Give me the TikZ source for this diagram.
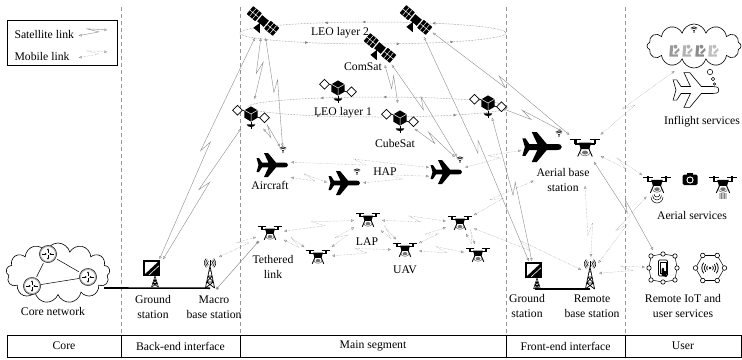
\documentclass[tikz,border=0pt]{standalone}
\usepackage{fontspec}
\setmainfont{Liberation Serif}
\usetikzlibrary{arrows.meta,calc,shapes.symbols,decorations.markings}
\definecolor{lk}{RGB}{140,140,140}
\definecolor{dv}{RGB}{150,150,150}
\tikzset{ico/.style 2 args={inner sep=0pt,minimum width=#1,minimum height=#2},
 lbl/.style={align=center,inner sep=1pt},
 lnk/.style={draw=lk,line width=.4pt,{Latex[open,length=3.2pt,width=2.8pt]}-{Latex[open,length=3.2pt,width=2.8pt]},shorten <=1.5pt,shorten >=1.5pt,
  to path={-- ($(\tikztostart)!.5!(\tikztotarget)!6pt!(\tikztotarget)$) -- ($(\tikztostart)!.5!(\tikztotarget)!-6pt!(\tikztotarget)!5.5pt!90:(\tikztotarget)$) -- (\tikztotarget)}},
 sl/.style={lnk},ml/.style={lnk,densely dotted},
 orbit/.style={draw=black!55,densely dotted,line width=.5pt},
 sepline/.style={dv,dash pattern=on 4pt off 3pt,line width=.6pt},
 every node/.style={font=\fontsize{11.7}{14.5}\selectfont},
 pics/comsat/.style={code={\begin{scope}[yscale=-1,rotate=40]
  \fill (-3.6,-3.3) rectangle (3.6,3.3);
  \foreach \s in {-1,1}{\fill[rounded corners=.5pt] (\s*4.8,-4.3) rectangle (\s*14.2,4.3);
   \draw[white,line width=.45pt] (\s*4.8,0) -- (\s*14.2,0) (\s*7.9,-4.3) -- (\s*7.9,4.3) (\s*11.1,-4.3) -- (\s*11.1,4.3);}
  \fill (-1,-3) -- (4.5,-9.5) -- (-2.5,-9.5) -- cycle;
  \end{scope}}},
 pics/cubesat/.style={code={\begin{scope}[yscale=-1]
  \draw[line width=.7pt] (-5,2.5) -- (-8,3.5) (5,-2.5) -- (8,-3.5);
  \draw[line width=.7pt,fill=white] (-12.5,8) -- (-8,3.5) -- (-12.5,-1) -- (-17,3.5) -- cycle (12.5,1) -- (17,-3.5) -- (12.5,-8) -- (8,-3.5) -- cycle;
  \fill (90:7) -- (150:7) -- (210:7) -- (270:7) -- (330:7) -- (30:7) -- cycle;
  \draw[white,line width=.5pt] (0,0) -- (30:7) (0,0) -- (150:7) (0,0) -- (270:7);
  \draw[line width=1pt] (0,-7) -- (0,-14);
  \fill (-4,-9.5) arc[start angle=180,end angle=360,x radius=4,y radius=2.6] -- cycle;
  \end{scope}}},
 pics/plane/.style={code={\begin{scope}[yscale=-1]
  \path[pic actions] (15,0) .. controls (15,2.2) and (13,2.4) .. (11,2.4) -- (3,2.4) -- (-5,12) -- (-9,12) -- (-4.5,2.4) -- (-11,2.4) -- (-14,7) -- (-16.5,7) -- (-14.5,0) -- (-16.5,-7) -- (-14,-7) -- (-11,-2.4) -- (-4.5,-2.4) -- (-9,-12) -- (-5,-12) -- (3,-2.4) -- (11,-2.4) .. controls (13,-2.4) and (15,-2.2) .. (15,0) -- cycle;
  \end{scope}}},
 pics/wifi/.style={code={\begin{scope}[yscale=-1,black!80]
  \fill (0,0) circle (.9);
  \foreach \r in {2.3,3.7,5.1}{\draw[line width=.85pt] (50:\r) arc[start angle=50,end angle=130,radius=\r];}
  \end{scope}}},
 pics/drone/.style={code={\begin{scope}[yscale=-1]
  \foreach \s in {-1,1}{\draw[line width=1.1pt] (\s*3.6,6.6) -- (\s*11.8,6.6); \fill (\s*6.8,7.4) rectangle (\s*8.6,3);}
  \draw[line width=1.3pt] (-8,3.2) -- (8,3.2);
  \fill (-5,4.4) -- (5,4.4) -- (3.5,-.8) -- (-3.5,-.8) -- cycle;
  \draw[line width=.9pt] (-2.8,0) -- (-5.8,-6.8) (2.8,0) -- (5.8,-6.8);
  \fill[black!55] (0,-3.6) ellipse[x radius=2.4,y radius=1.6];
  \draw[black!55,line width=.6pt] (-4,-3.6) arc[start angle=180,end angle=360,x radius=4,y radius=2.7];
  \end{scope}}},
 pics/dish/.style={code={\begin{scope}[yscale=-1]
  \draw[line width=.55pt] (-1.5,-13) -- (2,-2) -- (5.5,-13) (-.4,-9.5) -- (4.4,-9.5) (.6,-6) -- (3.4,-6) (-.4,-9.5) -- (3.4,-6) (4.4,-9.5) -- (.6,-6) (-1.5,-13) -- (4.4,-9.5) (5.5,-13) -- (-.4,-9.5);
  \draw[line width=1.1pt,fill=white] (-9,-1) rectangle (6,13);
  \fill (-9,-1) -- (6,-1) -- (6,13) -- cycle;
  \draw[white,line width=.6pt] (-4,-1) -- (6,8.3);
  \end{scope}}},
 pics/tower/.style={code={\begin{scope}[yscale=-1]
  \draw[line width=.7pt] (-4.6,-15) -- (0,7) -- (4.6,-15) (-3.4,-9) -- (3.4,-9) (-2.2,-3) -- (2.2,-3) (-4.6,-15) -- (3.4,-9) (4.6,-15) -- (-3.4,-9) (-3.4,-9) -- (2.2,-3) (3.4,-9) -- (-2.2,-3) (-1.1,2) -- (1.1,2);
  \draw[line width=.9pt] (0,7) -- (0,13);
  \foreach \r in {2.6,4.2,5.8}{\draw[line width=.55pt] (0,10) ++(130:\r) arc[start angle=130,end angle=230,radius=\r] (0,10) ++(-50:\r) arc[start angle=-50,end angle=50,radius=\r];}
  \end{scope}}},
 pics/router/.style={code={
  \draw[line width=1.4pt,draw=black!30,fill=white] (0,0) circle (7.8);
  \draw[line width=.4pt] (0,0) circle (8.6);
  \foreach \a in {90,270}{\draw[-{Stealth[length=2pt,width=2.2pt]},line width=.5pt] (\a:1.3) -- (\a:5.6);}
  \foreach \a in {0,180}{\draw[-{Stealth[length=2pt,width=2.2pt]},line width=.5pt] (\a:5.8) -- (\a:1.3);}
  }},
 pics/camera/.style={code={
  \fill[rounded corners=1.5pt] (-7.5,-5.5) rectangle (7.5,5);
  \fill (-3,-7.5) rectangle (3,-5);
  \fill[white] (0,0) circle (3.6); \fill (0,0) circle (2.4);
  }},
 pics/seat/.style={code={\begin{scope}[yscale=-1]
  \fill (-5,-6) -- (4,-6) -- (4,-3.5) -- (-1.5,-3.5) -- (-1,6) -- (-4,6) -- cycle;
  \fill (1.5,4.5) circle (2.1);
  \fill (0,-2) -- (5,3) -- (6,1) -- (2,-3) -- cycle;
  \end{scope}}},
 pics/iotphone/.style={code={
  \draw[line width=.5pt] (-12,-12) -- (0,-14) -- (12,-12) -- (14,0) -- (12,12) -- (0,14) -- (-12,12) -- (-14,0) -- cycle;
  \foreach \p in {(-12,-12),(0,-14),(12,-12),(14,0),(12,12),(0,14),(-12,12),(-14,0)}{\draw[line width=.6pt,fill=white] \p circle (2.2);}
  \draw[line width=.7pt,rounded corners=1.2pt,fill=white] (-4.5,-8) rectangle (4.5,8);
  \draw[line width=.4pt] (-3,-5.8) rectangle (3,5);
  \fill (-1.5,7.5) -- (-1.5,1) -- (0,-.5) -- (1.2,1) -- (1.2,3) -- (3.5,3) -- (3.5,9) -- cycle;
  }},
 pics/iotwave/.style={code={
  \foreach \a in {0,60,...,300}{\draw[line width=.5pt] (\a:14.5) -- (\a+60:14.5);}
  \foreach \a in {0,60,...,300}{\draw[line width=.6pt,fill=white] (\a:14.5) circle (2.3);}
  \fill (0,0) circle (1.4);
  \foreach \r in {3.4,5.8,8.2}{\draw[line width=.8pt] (-40:\r) arc[start angle=-40,end angle=40,radius=\r] (140:\r) arc[start angle=140,end angle=220,radius=\r];}
  }}}
\begin{document}
\begin{tikzpicture}[x=1pt,y=-1pt]
\useasboundingbox (0,0) rectangle (742,359);
\foreach \x in {121,240,506,625}{\draw[sepline] (\x,7) -- (\x,335);}
\draw[line width=.6pt] (7,335) rectangle (741,357);
\foreach \x in {121,240,506,625}{\draw[line width=.6pt] (\x,335) -- (\x,357);}
\node (tcore) at (64,346) {Core};\node (tback) at (180.5,346) {Back-end interface};\node (tmain) at (373,346) {Main segment};
\node (tfront) at (565.5,346) {Front-end interface};\node (tuser) at (683,346) {User};
\node[draw,line width=.6pt,ico={110}{45}] (leg) at (62,42.5) {};
\node[anchor=west] (lgs) at (11,34) {Satellite link};\node[anchor=west] (lgm) at (11,56) {Mobile link};
\coordinate (lsa) at (77,36);\coordinate (lsb) at (109,30);\coordinate (lma) at (77,58);\coordinate (lmb) at (109,52);
\draw[sl] (lsa) to (lsb);\draw[ml] (lma) to (lmb);
\draw[orbit,decoration={markings,mark=at position .1 with {\arrowreversed{Latex[open,length=3.2pt,width=2.8pt]}},
 mark=at position .2 with {\arrowreversed{Latex[open,length=3.2pt,width=2.8pt]}},mark=at position .37 with {\arrowreversed{Latex[open,length=3.2pt,width=2.8pt]}},
 mark=at position .66 with {\arrowreversed{Latex[open,length=3.2pt,width=2.8pt]}},mark=at position .73 with {\arrowreversed{Latex[open,length=3.2pt,width=2.8pt]}},
 mark=at position .86 with {\arrowreversed{Latex[open,length=3.2pt,width=2.8pt]}}},postaction=decorate] (373,33) ellipse[x radius=133,y radius=11];
\draw[orbit,decoration={markings,mark=at position .1 with {\arrowreversed{Latex[open,length=3.2pt,width=2.8pt]}},
 mark=at position .36 with {\arrowreversed{Latex[open,length=3.2pt,width=2.8pt]}},mark=at position .64 with {\arrowreversed{Latex[open,length=3.2pt,width=2.8pt]}},
 mark=at position .76 with {\arrowreversed{Latex[open,length=3.2pt,width=2.8pt]}}},postaction=decorate] (378,107) ellipse[x radius=130,y radius=10];
\node[ico={30}{30}] (s1) at (263,21) {};\node[ico={30}{30}] (s2) at (416,20) {};\node[ico={30}{30}] (s3) at (380,48) {};
\node[ico={26}{26}] (c1) at (251,114) {};\node[ico={26}{26}] (c2) at (338,88) {};\node[ico={26}{26}] (c3) at (400,118) {};\node[ico={26}{26}] (c4) at (488,103) {};
\node[ico={32}{24}] (a1) at (273,165) {};\node[ico={32}{24}] (a2) at (345,183) {};\node[ico={32}{24}] (a3) at (447,172) {};
\node[ico={10}{7}] (w1) at (283,152) {};\node[ico={10}{7}] (w2) at (357,174) {};\node[ico={10}{7}] (w3) at (460,162) {};
\node[ico={40}{30}] (abp) at (543,147) {};\node[ico={10}{7}] (abw) at (559,136) {};\node[ico={28}{24}] (abd) at (585,148) {};
\node[ico={24}{18}] (d1) at (270,233) {};\node[ico={24}{18}] (d2) at (318,257) {};\node[ico={24}{18}] (d3) at (368,220) {};
\node[ico={24}{18}] (d4) at (405,250) {};\node[ico={24}{18}] (d5) at (460,223) {};\node[ico={24}{18}] (d6) at (478,255) {};
\node[ico={18}{26}] (g1) at (153,274) {};\node[ico={14}{30}] (m1) at (210,273) {};
\node[ico={18}{26}] (g2) at (535,276) {};\node[ico={14}{30}] (rb) at (590,274) {};
\node[ico={32}{32}] (i1) at (663,268) {};\node[ico={32}{32}] (i2) at (710,268) {};
\node[ico={26}{20}] (as1) at (657,185) {};\node[ico={16}{14}] (as2) at (690,180) {};\node[ico={26}{20}] (as3) at (723,185) {};
\node[ico={48}{36}] (ip) at (697,90) {};
\node[cloud,draw,cloud puffs=13,aspect=1.75,ico={104}{60},line width=.6pt] (core) at (58,273) {};
\node[cloud,draw,cloud puffs=12,aspect=2.1,ico={94}{44},line width=.6pt] (ifc) at (694,46) {};
\node[ico={18}{18}] (r1) at (48,254) {};\node[ico={18}{18}] (r2) at (32,286) {};\node[ico={18}{18}] (r3) at (88,277) {};
\coordinate (cj) at (104,288);\coordinate (abs) at (585,184);\coordinate (ifa) at (676,70);
\draw[sl] (g1) to (s1);\draw[sl] (g1.north east) to (c1);\draw[sl] (s1) to (c1);\draw[sl] (s1) to (w1);\draw[sl] (c1) to (w1);
\draw[sl] (s3) to (c3);\draw[sl] (s3) to (w3);\draw[sl] (c3) to (w3);\draw[sl] (s2) to (g2);\draw[sl] (c4) to (g2);
\draw[sl] (s2) to (abd);\draw[sl] (c4) to (abp.north east);\draw[sl] (abd) to (i1);
\draw[ml] (a1.10) to (a3.165);\draw[ml] (a1.south east) to (a2.west);\draw[ml] (a2.east) to (a3.195);\draw[ml] (a3) to (abp);
\draw[ml] (m1.north east) to (d1);\draw[ml] (d1) to (d3);\draw[ml] (d1) to (d2);\draw[ml] (d2) to (d3);\draw[ml] (d2) to (d4);
\draw[ml] (d3) to (d5);\draw[ml] (d3) to (d4);\draw[ml] (d4) to (d5);\draw[ml] (d4) to (d6);\draw[ml] (d5) to (d6);
\draw[ml] (d5) to (rb);\draw[ml] (abs) to (rb);\draw[ml] (abd) to (as1);\draw[ml] (rb) to (as1);\draw[ml] (rb) to (i1);\draw[ml] (abd) to (ifa);
\draw[lk,line width=.5pt] (m1.south east) -- (d1.south west);\fill[lk] (m1.south east) circle (1.6) (d1.south west) circle (1.6);
\draw[line width=.5pt] (r1) -- (r2) (r1) -- (r3) (r2) -- (r3);
\draw[line width=1.6pt] (cj) -- (m1.south);\draw[line width=1.6pt] (g2.south) -- (rb.south);
\foreach \n in {r1,r2,r3}{\pic at (\n) {router};}
\foreach \n in {s1,s2,s3}{\pic[scale=1.2] at (\n) {comsat};}
\foreach \n in {c1,c2,c3,c4}{\pic[scale=1.08] at (\n) {cubesat};}
\foreach \n in {a1,a2,a3}{\pic[fill=black] at (\n) {plane};}
\foreach \n in {w1,w2,w3,abw}{\pic at (\n) {wifi};}
\pic[fill=black,scale=1.25] at (abp) {plane};\pic[scale=1.25] at (abd) {drone};
\foreach \n in {d1,d2,d3,d4,d5,d6}{\pic at (\n) {drone};}
\pic at (g1) {dish};\pic at (g2) {dish};\pic at (m1) {tower};\pic at (rb) {tower};
\pic at (i1) {iotphone};\pic at (i2) {iotwave};
\pic[scale=1.15] at (as1) {drone};\pic at (as2) {camera};\pic[scale=1.15] at (as3) {drone};
\foreach \k in {0,1,2}{\draw[line width=.5pt] ($(as1)+(-3-1.5*\k,9+1.5*\k)$) arc[start angle=180,end angle=0,radius=3+1.5*\k];}
\foreach \i in {-3,-1.5,0,1.5,3}{\foreach \j in {9,11,13}{\fill ($(as3)+(\i,\j)$) circle (.55);}}
\foreach \x/\c in {-20/40,-7/30,6/45,19/25}{\pic[black!\c,scale=.95] at ($(ifc)+(\x,5)$) {seat};}
\pic at ($(ifc)+(0,-14)$) {wifi};
\pic[draw=black,fill=white,line width=.6pt,scale=1.45] at (ip) {plane};
\draw[line width=.5pt] (710,72) circle (2.7) (713,79) circle (1.8) (714.5,84) circle (1.2);
\node (ll2) at (340,33) {LEO layer 2};\node (lcom) at (363,67) {ComSat};
\node (ll1) at (343,113) {LEO layer 1};\node (lcube) at (395,143) {CubeSat};
\node (lhap) at (385,172) {HAP};\node (lair) at (270,185) {Aircraft};
\node[lbl] (abl) at (563,180) {Aerial base\\station};
\node (lin) at (702,122) {Inflight services};\node (las) at (692,215) {Aerial services};
\node (llap) at (367,242) {LAP};\node (luav) at (405,270) {UAV};
\node[lbl] (lteth) at (273,267) {Tethered\\link};
\node (lcore) at (53,311) {Core network};
\node[lbl] (lg1) at (153,307) {Ground\\station};\node[lbl] (lm1) at (214,307) {Macro\\base station};
\node[lbl] (lg2) at (527,306) {Ground\\station};\node[lbl] (lrb) at (592,306) {Remote\\base station};
\node[lbl] (liot) at (683,306) {Remote IoT and\\user services};
\draw[ml] (d5) to (abl.west);
\end{tikzpicture}
\end{document}
